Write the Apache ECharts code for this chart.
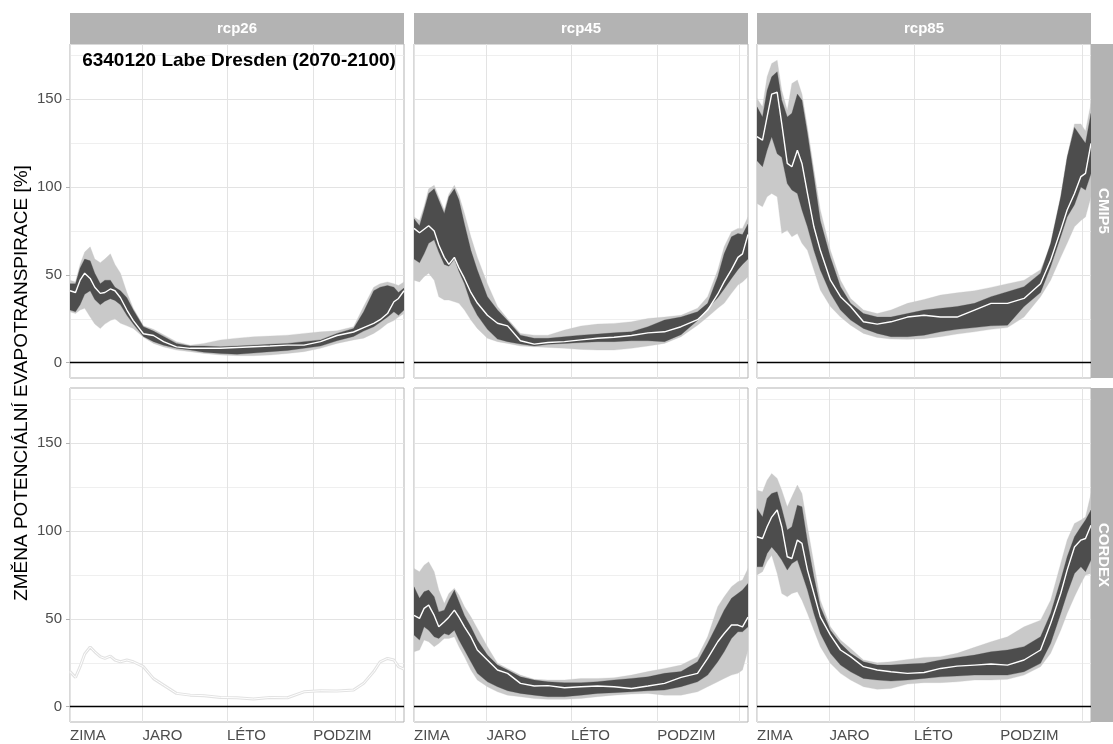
<!DOCTYPE html>
<html><head><meta charset="utf-8">
<script src="https://cdn.jsdelivr.net/npm/echarts@6/dist/echarts.min.js"></script>
<style>html,body{margin:0;padding:0;background:#fff}#c{width:1113px;height:744px}</style>
</head><body><div id="c"></div>
<script>
// ---------- data ----------
const days = [1,7,12,17,23,28,34,39,45,50,56,63,70,81,92,103,117,132,147,165,183,201,219,238,256,274,292,310,321,332,339,347,354,359,365];
const seasonTicks = [1,80,172,266,355];
const seasonLabels = ['ZIMA','JARO','LÉTO','PODZIM',''];
const yTicks = [0,50,100,150];
const yMinor = [25,75,125,175];
const scenarios = ['rcp26','rcp45','rcp85'];
const ensembles = ['CMIP5','CORDEX'];
const titleText = '6340120 Labe Dresden (2070-2100)';
const yTitle = 'ZMĚNA POTENCIÁLNÍ EVAPOTRANSPIRACE [%]';

// rcp26 CMIP5
const cmip26Median  = [41,40,47,51,48,43,39.5,40,42,41,37,30,24,16.5,15.5,12,9,8.2,8.2,8.2,8.7,9.1,9.5,10,10,12,15.5,17.5,20,22.4,24.5,28,34.7,36.6,41];
const cmip26InnerHi = [45,45,54,59,58,51,45,47,47,43,41,37,30,20.5,18,15,11,9.5,9.5,9.1,9.5,10,10.5,11,12,13,16.7,19.5,29,41,43,44,43,40,42.5];
const cmip26InnerLo = [30,29,33,39,41,36,33,35,36.5,35.5,33,27,22,15,12,10,8.2,7.2,6,5.3,4.8,5.5,6.3,7,8.2,9.5,12.5,15,18,20.5,23,26,29,27,30];
const cmip26OuterHi = [47,46,56,63,66,59,57,59,62,56,51,40,31,21,19,16,12,10,11,13,14,14.8,15.2,15.7,16.7,17.6,18.2,20.5,32,43,45,46,45,44,46];
const cmip26OuterLo = [29,28,30,31,26,22,19.5,22,24,25,22.5,21,19.5,14.5,11,9,7.2,6.3,5.3,4.4,4,4,4.4,5.3,6.3,8.2,11,13,14,16.7,19,22.4,24,26,28];

// rcp45 CMIP5
const cmip45Median  = [76.5,74,76,78,75,67,60,56,60,54,48,40,34,27,22.5,21,12.5,10.6,11.5,12,13,13.9,14.5,15.5,17,17.6,20.5,24.5,30,39,46,53,60,62,73];
const cmip45InnerHi = [82,78,87,96.4,99,92.6,85,94.5,99,92.6,79,64,52.8,37.6,30,24,15.7,13.9,13.9,14.8,15.7,16.3,17,17.6,20.5,24.3,26,29,33.8,49,62,71.7,73.6,73,79];
const cmip45InnerLo = [59,57,62,68,70,63,56,55,59,52,45,34,27,19,13.5,12,10.6,9.5,10.5,11,11.5,12,12,12.5,12.5,12,16,24,31,37,42,48,53,56,59];
const cmip45OuterHi = [83,81,89,99,101,94.5,87,96,101,95.4,85,71.7,60,45,32,25,16.7,15.7,15.7,18.6,20.9,22,22.4,23.3,25.2,26,27,31,37.6,52.8,66,74.6,76.5,76.5,83];
const cmip45OuterLo = [47,46,49,51,47,37.6,35.7,35.7,34.7,33.8,30,24.3,19.5,13.9,12,11,9.5,9.1,8.7,8.2,7.6,7.2,7.2,8.2,9.5,11,14.8,21.4,26,31,33.8,39.5,44.2,46,49];

// rcp85 CMIP5
const cmip85Median  = [128.7,126.8,140,153,154,136,113.5,111.6,121,113.5,96.4,77.4,64,47,37.6,32,23.3,22,23.3,26,27,26,26,30,33.8,33.8,36.6,45,58.4,75.5,87,96.4,106,107.8,124.9];
const cmip85InnerHi = [145.7,140,155,162.8,165.7,149.5,140,142,153,149.5,130.6,106,81,60,43.3,33.8,28,26,26,28,30,31,32,33.8,37.6,40.4,43.3,51,68,94.5,117,134,128.7,125,142];
const cmip85InnerLo = [115,111.6,121,128.7,119,117,102,98.3,96.4,87,77.4,64,52.8,39.5,30,24.3,19.5,16.7,14.8,14.8,15.7,17.6,19,20,21,21.4,32,40,54.6,71.7,83,90,100,98.3,107.8];
const cmip85OuterHi = [150.5,145.7,162.8,170.4,172.3,155,143.8,159,161,153,134,110,87,64,47,36.6,30,28,30,33.8,36,38.5,39.8,41,42.9,45,47,53,66,94.5,117,136,136,132,147.6];
const cmip85OuterLo = [90.7,88.8,94.5,96.4,94.5,73.6,75.5,71.7,73.6,68,64,52.8,41.4,32,26,21.4,16.7,14.4,13.5,13.3,13.7,14.8,16.3,17.6,19,20,26,37.6,47,60,68,77.4,81,83,94.5];

// rcp26 CORDEX (single run)
const cordex26Median = [20,16.7,22.8,30,34,31.3,28.5,27.5,28.8,26.6,25.6,26.6,25.6,22.8,16,12.3,7.6,6.6,6.3,5.3,5.1,4.4,5.3,5.1,8.5,9.1,8.9,9.5,13.3,20,25.6,27.5,26.6,22.8,21.4];

// rcp45 CORDEX
const cordex45Median  = [52,50.3,56,57.9,52,45.5,48.4,51,55,51,45.5,39.8,32.3,26.6,20.9,19,13.3,11.8,12,10.8,11.4,11.8,11.4,10.4,11.8,13.3,16.7,19,27.5,37,41.7,46.5,46.5,45.5,51];
const cordex45InnerHi = [68.3,61.7,65.5,66.4,62.6,54,55,60.7,66.4,59.8,52,45.5,38,29.4,23.7,20.9,17,15.2,14.2,13.7,13.7,14.2,15.2,16.1,17,19,20,25.6,36,47.4,55,61.7,64.5,66.4,70.2];
const cordex45InnerLo = [40.8,38,45.5,43.6,39.8,38.9,41.7,40.8,43.6,38,32.3,25.6,19,14.2,11.4,9.1,7.6,6.6,5.7,5.7,6.6,7.6,8,8.5,9.1,9.5,11.4,14.2,18,25.6,31.3,38.9,42.7,42.7,45.5];
const cordex45OuterHi = [78.7,76.9,80.6,82.5,76.9,66.4,58.8,64.5,67.4,63.6,57,51.2,44.6,34.2,24.7,21.8,18,15.6,15.2,15.2,16.1,16.1,16.5,18,20,21.8,23.7,28.5,39.8,57,62.6,68.3,71.2,72.1,78.7];
const cordex45OuterLo = [31.3,32.3,38,37,34.2,36,38.9,38.9,39.8,34.2,28.5,20.9,15.2,11.4,8.5,6.6,5.7,4.7,4.2,4.2,4.7,5.7,6.6,7.2,7.6,6.6,6.6,8.5,11.4,14.2,16.1,18,19,20.9,32.3];

// rcp85 CORDEX
const cordex85Median  = [96.8,95.8,102.5,108,112,102.5,85.4,84.4,94.9,93,77.8,64.5,51.2,40.8,32.3,28.5,22.8,20.9,19.9,19,19.5,21.8,23.1,23.7,24.3,23.7,26.6,32.3,47.4,64.5,77.8,91,94.9,95.8,103.4];
const cordex85InnerHi = [112.9,108,118.6,121.4,122.4,112.9,100.6,102.5,114.8,113.9,94,74,57,43.6,36,30.4,25.6,23.7,23.7,24.3,24.7,26.6,28.1,29.4,31.3,32.3,34.2,39.8,53.1,72.1,85.4,96.8,102.5,106.3,112];
const cordex85InnerLo = [79.7,79.7,87.3,91,87.3,83.5,77.8,81.6,83.5,75.9,66.4,53.1,41.7,30.4,23.7,19.9,16.1,15.2,14.6,15.2,16.1,17,17.5,18,18,18,19.9,24.7,36,53.1,64.5,75.9,79.7,76.9,83.5];
const cordex85OuterHi = [123.3,122.4,129,132.8,130,123.3,113.9,119.5,126.2,121.4,102.5,81.6,60.7,45.5,38,33.2,26.6,25,25.6,26.9,28.1,28.5,30.4,33.8,37,39.8,45.5,49.3,60.7,81.6,94.9,104.4,106.3,108,121.4];
const cordex85OuterLo = [75,76.9,82.5,86.3,75.9,64.5,62.6,64.5,65.5,60.7,53.1,43.6,34.2,24.7,19,15.2,11.4,9.9,10.4,12.9,13.7,13.7,14.2,15.2,15.2,15.6,18,22.8,30.4,43.6,53.1,62.6,70.2,75,75.9];

// ---------- layout / style ----------
const FONT = '"Liberation Sans", Arial, Helvetica, sans-serif';
const colLeft = [70, 414, 757];
const rowTop = [44, 388];
const PW = 334, PH = 334;
const OUTER = '#C9C9C9', INNER = '#4D4D4D', STRIP = '#B3B3B3';

const panels = [
  {row:0,col:0, median:cmip26Median, iHi:cmip26InnerHi, iLo:cmip26InnerLo, oHi:cmip26OuterHi, oLo:cmip26OuterLo},
  {row:0,col:1, median:cmip45Median, iHi:cmip45InnerHi, iLo:cmip45InnerLo, oHi:cmip45OuterHi, oLo:cmip45OuterLo},
  {row:0,col:2, median:cmip85Median, iHi:cmip85InnerHi, iLo:cmip85InnerLo, oHi:cmip85OuterHi, oLo:cmip85OuterLo},
  {row:1,col:0, median:cordex26Median, single:true},
  {row:1,col:1, median:cordex45Median, iHi:cordex45InnerHi, iLo:cordex45InnerLo, oHi:cordex45OuterHi, oLo:cordex45OuterLo},
  {row:1,col:2, median:cordex85Median, iHi:cordex85InnerHi, iLo:cordex85InnerLo, oHi:cordex85OuterHi, oLo:cordex85OuterLo}
];

const xy = arr => days.map((d,i)=>[d, arr[i]]);

// ribbon drawn as one polygon through the axis scales (api.coord)
function ribbon(g, lo, hi, color, z){
  return {type:'custom', xAxisIndex:g, yAxisIndex:g, z, silent:true, animation:false, clip:true,
    data: days.map((d,i)=>[d, lo[i], hi[i]]),
    encode:{x:0, y:[1,2]},
    renderItem:(params, api)=>{
      if(params.dataIndex!==0) return null;
      const pts=[];
      for(let i=0;i<days.length;i++) pts.push(api.coord([days[i], hi[i]]));
      for(let i=days.length-1;i>=0;i--) pts.push(api.coord([days[i], lo[i]]));
      return {type:'polygon', shape:{points:pts}, style:{fill:color, stroke:color, lineWidth:0.3}};
    }};
}

const grids=[], xAxes=[], yAxes=[], series=[];
panels.forEach((p,g)=>{
  grids.push({left:colLeft[p.col], top:rowTop[p.row], width:PW, height:PH, show:true,
    borderColor:STRIP, borderWidth:1, backgroundColor:'#fff'});
  const bottom = p.row===1, left = p.col===0;
  xAxes.push({type:'value', gridIndex:g, min:1, max:365,
    axisLine:{show:false}, splitLine:{show:false},
    axisTick:{show:bottom, customValues:seasonTicks, length:4, lineStyle:{color:STRIP}},
    axisLabel:{show:bottom, customValues:seasonTicks, align:'left', margin:6, color:'#4D4D4D',
      fontSize:15, fontFamily:FONT, formatter:v=>seasonLabels[seasonTicks.indexOf(v)] || ''}});
  yAxes.push({type:'value', gridIndex:g, min:-8.7, max:181.5,
    axisLine:{show:false}, splitLine:{show:false},
    axisTick:{show:left, customValues:yTicks, length:4, lineStyle:{color:STRIP}},
    axisLabel:{show:left, customValues:yTicks, margin:8, color:'#4D4D4D', fontSize:15, fontFamily:FONT}});
  const base = {xAxisIndex:g, yAxisIndex:g, symbol:'none', silent:true, animation:false};
  // grid lines
  series.push(Object.assign({}, base, {type:'line', data:xy(p.median), z:1,
    lineStyle:{opacity:0},
    markLine:{silent:true, symbol:'none', z:1, animation:false, label:{show:false},
      data:[
        ...yMinor.map(v=>({yAxis:v, lineStyle:{color:'#EBEBEB', width:0.8, type:'solid'}})),
        ...yTicks.map(v=>({yAxis:v, lineStyle:{color:'#E3E3E3', width:1, type:'solid'}})),
        ...seasonTicks.map(v=>({xAxis:v, lineStyle:{color:'#E3E3E3', width:1, type:'solid'}}))
      ]}}));
  if(p.single){
    series.push(Object.assign({}, base, {type:'line', data:xy(p.median), z:3,
      lineStyle:{color:'#E2E2E2', width:3}}));
    series.push(Object.assign({}, base, {type:'line', data:xy(p.median), z:4,
      lineStyle:{color:'#FFFFFF', width:1}}));
  } else {
    series.push(ribbon(g, p.oLo, p.oHi, OUTER, 2));
    series.push(ribbon(g, p.iLo, p.iHi, INNER, 3));
    series.push(Object.assign({}, base, {type:'line', data:xy(p.median), z:4,
      lineStyle:{color:'#FFFFFF', width:1.4}}));
  }
  // zero line
  series.push(Object.assign({}, base, {type:'line', data:[], z:5,
    markLine:{silent:true, symbol:'none', z:5, animation:false, label:{show:false},
      data:[{yAxis:0}], lineStyle:{color:'#000', width:1.3, type:'solid'}}}));
});

const graphic = [];
scenarios.forEach((s,c)=>{
  graphic.push({type:'rect', shape:{x:colLeft[c], y:13, width:PW, height:31}, style:{fill:STRIP}, z:10});
  graphic.push({type:'text', x:colLeft[c]+PW/2, y:29, z:11,
    style:{text:s, fill:'#fff', font:'bold 15px '+FONT, align:'center', verticalAlign:'middle',
      textAlign:'center', textVerticalAlign:'middle'}});
});
ensembles.forEach((e,r)=>{
  graphic.push({type:'rect', shape:{x:1091, y:rowTop[r], width:31, height:PH}, style:{fill:STRIP}, z:10});
  graphic.push({type:'text', x:1103, y:rowTop[r]+PH/2, rotation:-Math.PI/2, z:11,
    style:{text:e, fill:'#fff', font:'bold 15px '+FONT, align:'center', verticalAlign:'middle',
      textAlign:'center', textVerticalAlign:'middle'}});
});
graphic.push({type:'text', x:239, y:61, z:12,
  style:{text:titleText, fill:'#000', font:'bold 19px '+FONT, align:'center', verticalAlign:'middle',
    textAlign:'center', textVerticalAlign:'middle'}});
graphic.push({type:'text', x:22, y:383, rotation:Math.PI/2, z:12,
  style:{text:yTitle, fill:'#000', font:'19px '+FONT, align:'center', verticalAlign:'middle',
    textAlign:'center', textVerticalAlign:'middle'}});

const chart = echarts.init(document.getElementById('c'));
chart.setOption({animation:false, backgroundColor:'#fff', grid:grids, xAxis:xAxes, yAxis:yAxes, series, graphic});
</script></body></html>
